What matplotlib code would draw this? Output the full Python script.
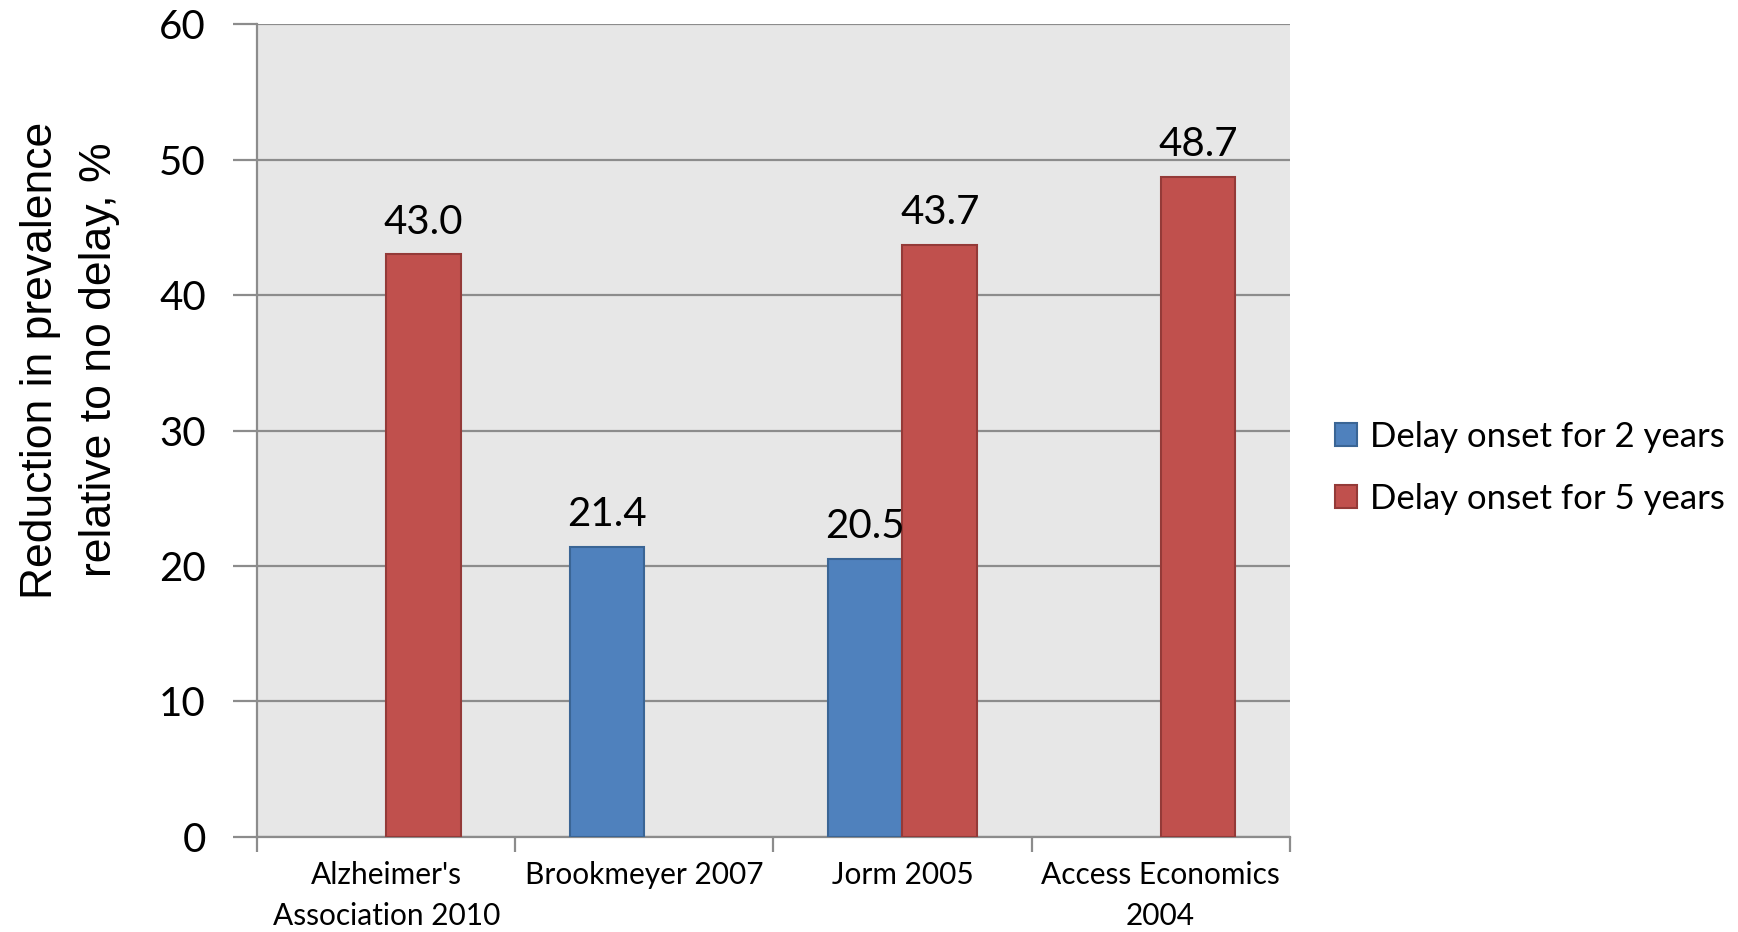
import numpy as np
import matplotlib.pyplot as plt

studies = ["Alzheimer's\nAssociation 2010", "Brookmeyer 2007",
           "Jorm 2005", "Access Economics\n2004"]
delay_2y = [np.nan, 21.4, 20.5, np.nan]
delay_5y = [43.0, np.nan, 43.7, 48.7]
series_names = ["Delay onset for 2 years", "Delay onset for 5 years"]

BLUE, BLUE_EDGE = '#4f81bd', '#3a6595'
RED, RED_EDGE = '#c0504d', '#943a38'
GRID = '#8c8c8c'

plt.rcParams['font.family'] = ['Lato', 'DejaVu Sans']

fig = plt.figure(figsize=(17.38, 9.32), dpi=100)
ax = fig.add_axes([0.148, 0.102, 0.594, 0.872])
ax.set_facecolor('#e7e7e7')

x = np.arange(len(studies))
w = 0.29
b2 = ax.bar(x - w / 2, delay_2y, w, color=BLUE, edgecolor=BLUE_EDGE,
            linewidth=1.5, label=series_names[0], zorder=3)
b5 = ax.bar(x + w / 2, delay_5y, w, color=RED, edgecolor=RED_EDGE,
            linewidth=1.5, label=series_names[1], zorder=3)

for bars, vals in ((b2, delay_2y), (b5, delay_5y)):
    labels = ['' if np.isnan(v) else f'{v:.1f}' for v in vals]
    ax.bar_label(bars, labels=labels, padding=10, fontsize=29, zorder=4)

ax.set_xlim(-0.5, len(studies) - 0.5)
ax.set_ylim(0, 60)
ax.set_yticks(np.arange(0, 61, 10))
ax.yaxis.grid(True, color=GRID, linewidth=1.6, zorder=1)
ax.set_axisbelow(True)

ax.set_xticks(x)
ax.set_xticklabels(studies, fontsize=21.5, linespacing=1.6)
ax.set_xticks(np.arange(-0.5, len(studies)), minor=True)
ax.tick_params(axis='x', which='major', length=0, pad=17)
ax.tick_params(axis='x', which='minor', length=11, width=1.6, color=GRID)
ax.tick_params(axis='y', length=17, width=1.6, color=GRID, labelsize=29, pad=20)

for side in ('top', 'right'):
    ax.spines[side].set_visible(False)
for side in ('left', 'bottom'):
    ax.spines[side].set_color(GRID)
    ax.spines[side].set_linewidth(1.6)

ax.set_ylabel("Reduction in prevalence\nrelative to no delay, %",
              family=['Liberation Sans', 'DejaVu Sans'], fontsize=32,
              linespacing=1.55)
ax.yaxis.set_label_coords(-0.133, 0.587)

ax.legend(loc='center left', bbox_to_anchor=(0.768, 0.498),
          bbox_transform=fig.transFigure, frameon=False, borderpad=0,
          borderaxespad=0, fontsize=25, handlelength=0.65, handleheight=0.65,
          handletextpad=0.35, labelspacing=0.85)

fig.savefig('out.png', dpi=100)
